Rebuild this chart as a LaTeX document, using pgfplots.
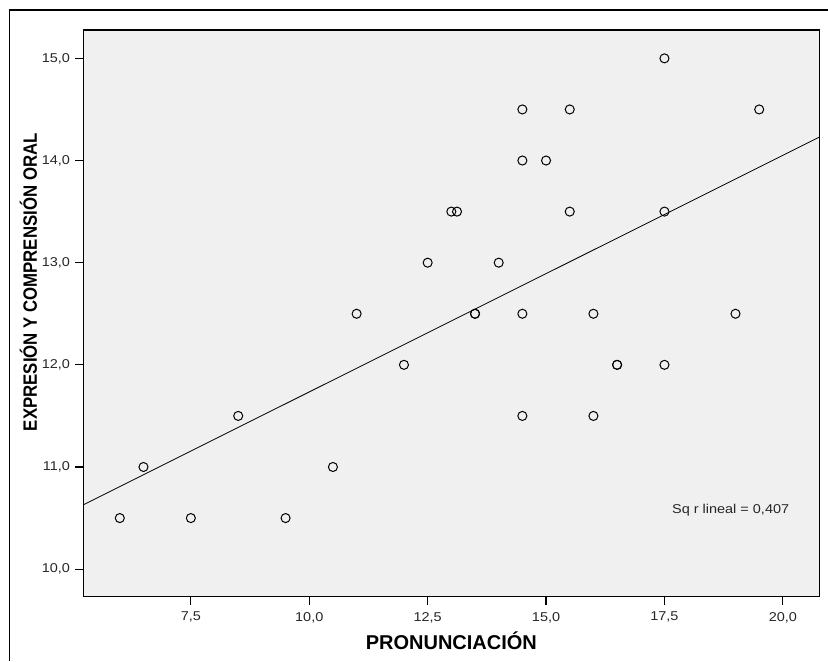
\documentclass[border=0pt]{standalone}
\usepackage{pgfplots}
\pgfplotsset{compat=1.18}
\usepackage{fontspec}
\setmainfont{Liberation Sans}
\definecolor{plotbg}{RGB}{240,240,240}
\begin{document}
\begin{tikzpicture}[x=0.75pt,y=0.75pt]
\useasboundingbox (0,0) rectangle (828,661);
\draw[black, line width=0.9pt] (9.3,0) -- (9.3,651) -- (828,651);
\begin{axis}[
  at={(62.5pt,48.2pt)}, anchor=south west,
  scale only axis, width=552pt, height=425pt,
  xmin=5.23, xmax=20.77, ymin=9.73, ymax=15.277,
  axis background/.style={fill=plotbg},
  axis line style={black, line width=1pt},
  xtick={7.5,10,12.5,15,17.5,20},
  ytick={10,11,12,13,14,15},
  tick pos=left, tick align=outside,
  major tick length=6pt,
  tick style={black, line width=0.9pt},
  /pgf/number format/.cd, fixed, fixed zerofill, precision=1, use comma, assume math mode=true,
  /pgfplots/.cd,
  ticklabel style={font=\fontsize{9.6}{11}\selectfont, xscale=1.13, text=black!85},
  xticklabel style={yshift=-2pt},
  xlabel={\textbf{PRONUNCIACIÓN}},
  ylabel={\textbf{EXPRESIÓN Y COMPRENSIÓN ORAL}},
  xlabel style={font=\fontsize{15}{18}\selectfont, at={(axis description cs:0.5,-0.0772)}, anchor=center},
  ylabel style={font=\fontsize{12.6}{15}\selectfont, yscale=1.15, at={(axis description cs:-0.0745,0.555)}, anchor=center},
  clip=true,
]
\addplot[black, line width=0.6pt] coordinates {(5.23,10.63) (20.77,14.229)};
\addplot[only marks, mark=o, mark size=3.4pt, mark options={line width=0.75pt, black}] coordinates {
(6.0,10.5) (6.5,11.0) (7.5,10.5) (8.5,11.5) (9.5,10.5) (10.5,11.0) (11.0,12.5)
(12.0,12.0) (12.5,13.0) (13.0,13.5) (13.12,13.5) (13.5,12.5) (13.5,12.5) (14.0,13.0)
(14.5,14.5) (14.5,14.0) (14.5,12.5) (14.5,11.5) (15.0,14.0) (15.5,14.5) (15.5,13.5)
(16.0,12.5) (16.0,11.5) (16.5,12.0) (16.5,12.0) (17.5,15.0) (17.5,13.5) (17.5,12.0)
(19.0,12.5) (19.5,14.5)
};
\node[anchor=west, font=\fontsize{9.6}{11}\selectfont, xscale=1.13, text=black!85] at (axis cs:17.55,10.58) {Sq r lineal = 0,407};
\end{axis}
\end{tikzpicture}
\end{document}
